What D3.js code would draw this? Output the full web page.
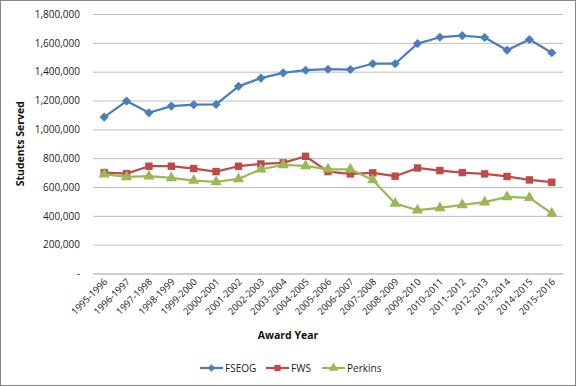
<!DOCTYPE html>
<html>
<head>
<meta charset="utf-8">
<script src="https://cdn.jsdelivr.net/npm/d3@7"></script>
<style>
  body { margin: 0; background: #fff; }
  svg { display: block; font-family: "Open Sans", "Noto Sans", sans-serif; }
</style>
</head>
<body>
<svg id="chart" width="576" height="386"></svg>
<script>
const years = [
  "1995-1996", "1996-1997", "1997-1998", "1998-1999", "1999-2000", "2000-2001",
  "2001-2002", "2002-2003", "2003-2004", "2004-2005", "2005-2006", "2006-2007",
  "2007-2008", "2008-2009", "2009-2010", "2010-2011", "2011-2012", "2012-2013",
  "2013-2014", "2014-2015", "2015-2016"
];
const fseog = [
  1085000, 1196000, 1115000, 1161000, 1171000, 1173000, 1298000, 1355000,
  1392000, 1410000, 1417000, 1415000, 1455000, 1455000, 1595000, 1639000,
  1650000, 1637000, 1549000, 1623000, 1531000
];
const fws = [
  700000, 693000, 744000, 744000, 728000, 707000, 744000, 760000, 767000,
  813000, 707000, 691000, 698000, 675000, 732000, 714000, 700000, 691000,
  673000, 649000, 633000
];
const perkins = [
  689000, 670000, 675000, 663000, 645000, 635000, 656000, 723000, 753000,
  746000, 723000, 723000, 649000, 486000, 439000, 455000, 476000, 495000,
  531000, 525000, 417000
];
const yTicks = [0, 200000, 400000, 600000, 800000, 1000000, 1200000, 1400000, 1600000, 1800000];

const series = [
  { name: "FSEOG", values: fseog, color: "#4A7EBB", shape: d3.symbolSquare, size: 42, rot: 45 },
  { name: "FWS", values: fws, color: "#BE4B48", shape: d3.symbolSquare, size: 55, rot: 0 },
  { name: "Perkins", values: perkins, color: "#98B954", shape: d3.symbolTriangle, size: 55, rot: 0 }
];

const svg = d3.select("#chart");
const W = 576, H = 386;
const margin = { top: 14, right: 13, bottom: 112, left: 93 };
const innerW = W - margin.left - margin.right;
const innerH = 273.5 - margin.top;

svg.append("rect")
  .attr("x", 0.5).attr("y", 0.5)
  .attr("width", W - 1).attr("height", H - 1)
  .attr("fill", "#fff").attr("stroke", "#868686");

const g = svg.append("g").attr("transform", `translate(${margin.left},${margin.top})`);

const x = d3.scaleBand().domain(years).range([0, innerW]);
const y = d3.scaleLinear().domain([0, 1800000]).range([innerH, 0]);

const fmt = d3.format(",");

// grid
g.append("g")
  .call(d3.axisLeft(y).tickValues(yTicks).tickSize(-innerW).tickFormat(""))
  .call((s) => s.select(".domain").remove())
  .call((s) => s.selectAll("line").attr("stroke", "#bfbfbf").attr("stroke-width", 1));

// y labels
g.append("g")
  .call(d3.axisLeft(y).tickValues(yTicks).tickSize(0).tickPadding(13)
    .tickFormat((d) => (d === 0 ? "-" : fmt(d))))
  .call((s) => s.select(".domain").remove())
  .call((s) => s.selectAll("text")
    .attr("font-family", "'Open Sans', sans-serif")
    .attr("font-size", 10).attr("fill", "#222"));

// x axis
const gx = g.append("g")
  .attr("transform", `translate(0,${innerH})`)
  .call(d3.axisBottom(x).tickSize(0).tickPadding(0));
gx.select(".domain").attr("stroke", "#bfbfbf");
gx.selectAll("text")
  .attr("font-family", "'Open Sans', sans-serif")
  .attr("font-size", 9.5).attr("fill", "#222")
  .attr("text-anchor", "end")
  .attr("dy", 0).attr("y", 0)
  .attr("transform", "translate(4,9) rotate(-45)");

// lines and markers
const line = d3.line()
  .x((d, i) => x(years[i]) + x.bandwidth() / 2)
  .y((d) => y(d));

for (const s of series) {
  g.append("path")
    .datum(s.values)
    .attr("fill", "none")
    .attr("stroke", s.color)
    .attr("stroke-width", 2.25)
    .attr("stroke-linejoin", "round")
    .attr("d", line);
  g.append("g").selectAll("path")
    .data(s.values)
    .join("path")
    .attr("transform", (d, i) =>
      `translate(${x(years[i]) + x.bandwidth() / 2},${y(d)}) rotate(${s.rot})`)
    .attr("d", d3.symbol(s.shape, s.size))
    .attr("fill", s.color);
}

// axis titles
svg.append("text")
  .attr("x", 288).attr("y", 339)
  .attr("text-anchor", "middle")
  .attr("font-size", 10.5).attr("font-weight", "bold").attr("fill", "#111")
  .text("Award Year");

svg.append("text")
  .attr("transform", `translate(24,${margin.top + innerH / 2}) rotate(-90)`)
  .attr("text-anchor", "middle")
  .attr("font-size", 10.5).attr("font-weight", "bold").attr("fill", "#111")
  .text("Students Served");

// legend
const legendX = [200, 266, 322];
const legend = svg.append("g");
series.forEach((s, i) => {
  const lg = legend.append("g").attr("transform", `translate(${legendX[i]},368)`);
  lg.append("line").attr("x1", 0).attr("x2", 23).attr("y1", 0).attr("y2", 0)
    .attr("stroke", s.color).attr("stroke-width", 2.25);
  lg.append("path").attr("transform", `translate(11.5,0) rotate(${s.rot})`)
    .attr("d", d3.symbol(s.shape, s.size * 0.7)).attr("fill", s.color);
  lg.append("text").attr("x", 25).attr("y", 4)
    .attr("font-size", 10).attr("fill", "#222").text(s.name);
});
</script>
</body>
</html>
